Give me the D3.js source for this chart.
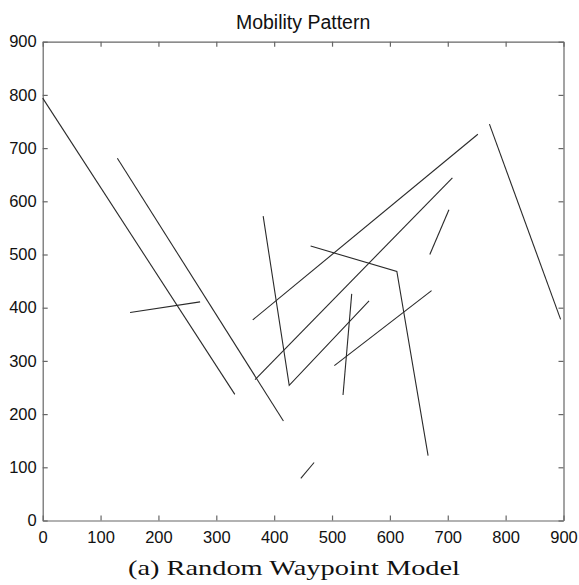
<!DOCTYPE html>
<html>
<head>
<meta charset="utf-8">
<script src="https://cdn.jsdelivr.net/npm/d3@7"></script>
<style>
  html, body { margin: 0; padding: 0; background: #fff; }
  svg { display: block; }
</style>
</head>
<body>
<svg id="chart" width="579" height="585"></svg>
<script>
// ---- data (node trajectories, in field coordinates) ----
const trackA = [[0, 794], [332, 237]];
const trackB = [[129, 681], [416, 187]];
const trackC = [[381, 572], [426, 254], [564, 413]];
const trackD = [[363, 377], [752, 726]];
const trackE = [[367, 265], [708, 644]];
const trackF = [[669, 500], [702, 584]];
const trackG = [[772, 745], [895, 378]];
const trackH = [[463, 516], [612, 468], [666, 122]];
const trackJ = [[534, 426], [519, 236]];
const trackK = [[504, 291], [672, 432]];
const trackL = [[446, 79], [469, 109]];
const trackM = [[151, 391], [272, 411]];
const tracks = [trackA, trackB, trackC, trackD, trackE, trackF, trackG, trackH, trackJ, trackK, trackL, trackM];

const xTicks = [0, 100, 200, 300, 400, 500, 600, 700, 800, 900];
const yTicks = [0, 100, 200, 300, 400, 500, 600, 700, 800, 900];
const titleText = "Mobility Pattern";
const captionText = "(a) Random Waypoint Model";

// ---- layout ----
const plotLeft = 42.7, plotRight = 563.5, plotTop = 41.7, plotBottom = 520.5;
const svg = d3.select("#chart");
svg.append("rect").attr("width", 579).attr("height", 585).attr("fill", "#fff");

const x = d3.scaleLinear().domain([0, 900]).range([plotLeft, plotRight]);
const y = d3.scaleLinear().domain([0, 900]).range([plotBottom, plotTop]);

const axisColor = "#666";
const font = "'Liberation Sans', Arial, Helvetica, sans-serif";

function styleAxis(g, showLabels) {
  g.select(".domain").attr("stroke", axisColor).attr("stroke-width", 1.2);
  g.selectAll(".tick line").attr("stroke", axisColor).attr("stroke-width", 1.2);
  g.selectAll(".tick text")
    .attr("fill", "#111")
    .style("font-family", font)
    .style("font-size", "16.5px");
  if (!showLabels) g.selectAll(".tick text").remove();
}

svg.append("g")
  .attr("transform", `translate(0,${plotBottom})`)
  .call(d3.axisBottom(x).tickValues(xTicks).tickFormat(d3.format("d")).tickSizeInner(-5).tickSizeOuter(0).tickPadding(11))
  .call(g => styleAxis(g, true));

svg.append("g")
  .attr("transform", `translate(0,${plotTop})`)
  .call(d3.axisTop(x).tickValues(xTicks).tickSizeInner(-5).tickSizeOuter(0))
  .call(g => styleAxis(g, false));

svg.append("g")
  .attr("transform", `translate(${plotLeft},0)`)
  .call(d3.axisLeft(y).tickValues(yTicks).tickFormat(d3.format("d")).tickSizeInner(-5).tickSizeOuter(0).tickPadding(6))
  .call(g => styleAxis(g, true));

svg.append("g")
  .attr("transform", `translate(${plotRight},0)`)
  .call(d3.axisRight(y).tickValues(yTicks).tickSizeInner(-5).tickSizeOuter(0))
  .call(g => styleAxis(g, false));

// ---- trajectories ----
const line = d3.line().x(d => x(d[0])).y(d => y(d[1]));
svg.append("g")
  .selectAll("path")
  .data(tracks)
  .join("path")
  .attr("d", line)
  .attr("fill", "none")
  .attr("stroke", "#2a2a2a")
  .attr("stroke-width", 1.1);

// ---- title ----
svg.append("text")
  .attr("x", (plotLeft + plotRight) / 2)
  .attr("y", 28.5)
  .attr("text-anchor", "middle")
  .attr("fill", "#111")
  .style("font-family", font)
  .style("font-size", "19.5px")
  .text(titleText);

// ---- caption ----
svg.append("text")
  .attr("x", 294)
  .attr("y", 575)
  .attr("text-anchor", "middle")
  .attr("fill", "#111")
  .attr("textLength", 332)
  .attr("lengthAdjust", "spacingAndGlyphs")
  .style("font-family", "'Liberation Serif', 'Times New Roman', serif")
  .style("font-size", "22px")
  .text(captionText);
</script>
</body>
</html>
